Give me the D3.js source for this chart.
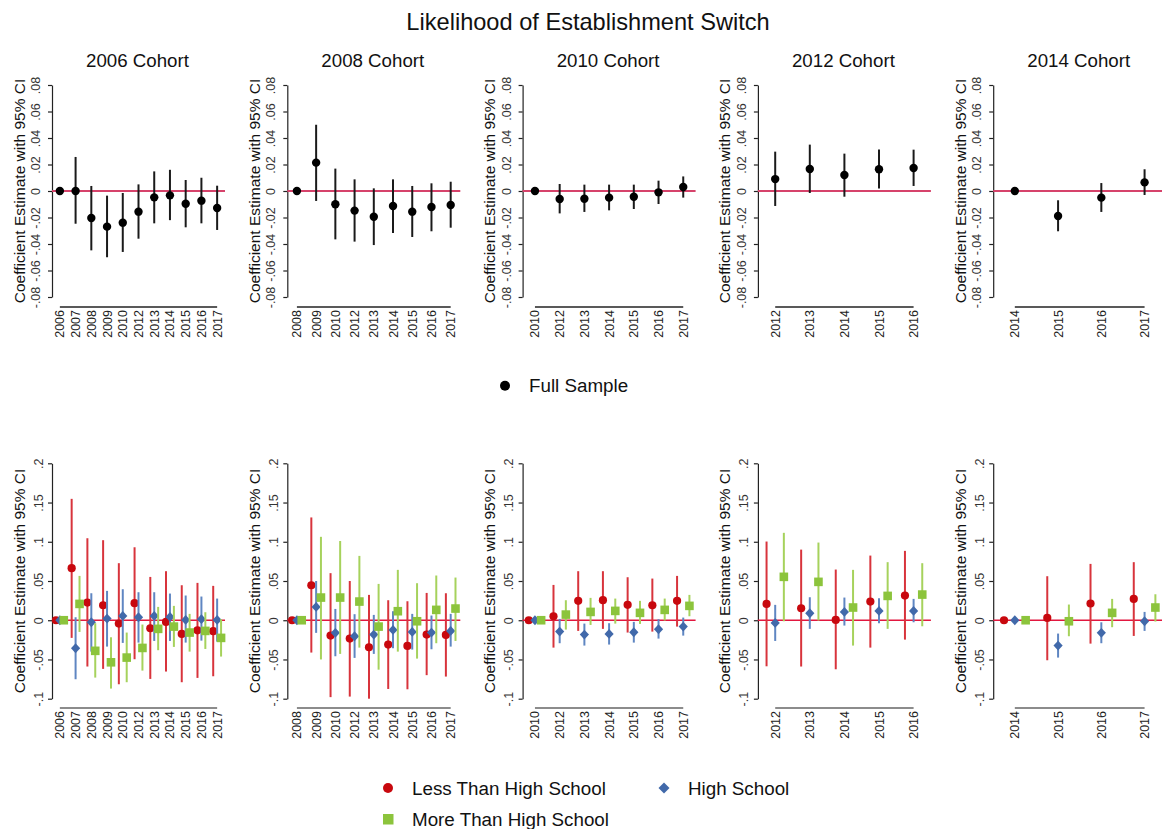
<!DOCTYPE html>
<html><head><meta charset="utf-8">
<script src="https://cdn.jsdelivr.net/npm/d3@7"></script>
<style>body{margin:0;background:#fff;} svg{display:block;font-family:"Liberation Sans",Arial,sans-serif;}</style>
</head><body><svg id="chart" width="1162" height="829"></svg>
<script>
// ---------------- DATA ----------------
const chartTitle = "Likelihood of Establishment Switch";
const cohortTitles = ["2006 Cohort","2008 Cohort","2010 Cohort","2012 Cohort","2014 Cohort"];
const years06 = ["2006","2007","2008","2009","2010","2012","2013","2014","2015","2016","2017"];
const years08 = ["2008","2009","2010","2012","2013","2014","2015","2016","2017"];
const years10 = ["2010","2012","2013","2014","2015","2016","2017"];
const years12 = ["2012","2013","2014","2015","2016"];
const years14 = ["2014","2015","2016","2017"];
const topTicks = [-0.08,-0.06,-0.04,-0.02,0,0.02,0.04,0.06,0.08];
const topTickLabels = ["-.08","-.06","-.04","-.02","0",".02",".04",".06",".08"];
const bottomTicks = [-0.1,-0.05,0,0.05,0.1,0.15,0.2];
const bottomTickLabels = ["-.1","-.05","0",".05",".1",".15",".2"];
const yAxisTitle = "Coefficient Estimate with 95% CI";
const seriesNames = ["Full Sample","Less Than High School","High School","More Than High School"];

// each entry: [estimate, lower 95% CI, upper 95% CI]
const full06 = [[0,0,0],[0.000,-0.0247,0.0257],[-0.0204,-0.0448,0.0038],[-0.0269,-0.050,-0.0035],[-0.0239,-0.046,-0.0015],[-0.0156,-0.036,0.005],[-0.0048,-0.0244,0.0148],[-0.0033,-0.022,0.016],[-0.0096,-0.0274,0.0083],[-0.0073,-0.0244,0.010],[-0.0128,-0.0294,0.004]];
const full08 = [[0,0,0],[0.0214,-0.0075,0.050],[-0.010,-0.0365,0.0169],[-0.0148,-0.0382,0.0088],[-0.0194,-0.0408,0.002],[-0.0113,-0.0317,0.0088],[-0.0156,-0.0347,0.0038],[-0.0121,-0.0304,0.0058],[-0.0106,-0.0277,0.007]];
const full10 = [[0,0,0],[-0.006,-0.0169,0.0053],[-0.0058,-0.0158,0.0048],[-0.005,-0.0146,0.0048],[-0.0043,-0.0136,0.0048],[-0.001,-0.0098,0.0078],[0.003,-0.005,0.011]];
const full12 = [[0.009,-0.0113,0.0297],[0.0166,-0.0015,0.035],[0.0121,-0.0043,0.0282],[0.0164,0.0018,0.0314],[0.0174,0.0038,0.0312]];
const full14 = [[0,0,0],[-0.0189,-0.0304,-0.007],[-0.005,-0.0158,0.006],[0.0065,-0.003,0.0164]];

const lessHS06 = [[0,0,0],[0.0663,-0.0225,0.1547],[0.0225,-0.059,0.1045],[0.0191,-0.062,0.102],[-0.0042,-0.0816,0.0727],[0.0217,-0.0497,0.093],[-0.0102,-0.0748,0.0552],[-0.0021,-0.0654,0.0625],[-0.0174,-0.079,0.0446],[-0.0128,-0.0735,0.0476],[-0.014,-0.0714,0.0438]];
const hs06 = [[0,0,0],[-0.0357,-0.0752,0.0038],[-0.0026,-0.040,0.0344],[0.0021,-0.0336,0.0374],[0.0055,-0.0289,0.0395],[0.0038,-0.0285,0.0357],[0.0055,-0.0264,0.0357],[0.0042,-0.0264,0.034],[0.0004,-0.0285,0.0315],[0.0013,-0.026,0.0302],[0.0004,-0.0272,0.0276]];
const moreHS06 = [[0,0,0],[0.0208,-0.0149,0.0565],[-0.039,-0.0731,-0.0038],[-0.0536,-0.0871,-0.0217],[-0.0476,-0.079,-0.0157],[-0.0353,-0.0642,-0.0055],[-0.011,-0.0382,0.017],[-0.0081,-0.034,0.0183],[-0.0157,-0.040,0.0081],[-0.0136,-0.0366,0.0102],[-0.0225,-0.0463,0.0013]];

const lessHS08 = [[0,0,0],[0.0446,-0.0412,0.131],[-0.0196,-0.098,0.060],[-0.0234,-0.0973,0.050],[-0.0344,-0.100,0.0323],[-0.031,-0.0876,0.0255],[-0.0327,-0.088,0.0242],[-0.0183,-0.070,0.0348],[-0.0187,-0.0718,0.0344]];
const hs08 = [[0,0,0],[0.017,-0.0161,0.050],[-0.0161,-0.0459,0.0144],[-0.0204,-0.048,0.0077],[-0.0183,-0.0429,0.0068],[-0.0123,-0.0357,0.0115],[-0.0149,-0.0374,0.0081],[-0.0157,-0.037,0.006],[-0.0136,-0.0336,0.0081]];
const moreHS08 = [[0,0,0],[0.0289,-0.050,0.1063],[0.0289,-0.0429,0.101],[0.0238,-0.0349,0.082],[-0.0081,-0.063,0.0463],[0.0115,-0.040,0.0642],[-0.0013,-0.0489,0.0472],[0.0132,-0.0293,0.057],[0.0149,-0.0264,0.0544]];

const lessHS10 = [[0,0,0],[0.0051,-0.0349,0.045],[0.0247,-0.0136,0.0625],[0.0255,-0.011,0.0625],[0.0196,-0.0157,0.0548],[0.0191,-0.0145,0.0531],[0.0247,-0.0081,0.0565]];
const hs10 = [[0,0,0],[-0.0145,-0.0293,0.0017],[-0.0183,-0.0323,-0.0043],[-0.0174,-0.031,-0.0038],[-0.0153,-0.0285,-0.0021],[-0.0115,-0.0234,0.0013],[-0.0081,-0.0196,0.0034]];
const moreHS10 = [[0,0,0],[0.0072,-0.0119,0.0255],[0.0106,-0.006,0.0285],[0.0119,-0.0043,0.0276],[0.0094,-0.0047,0.0247],[0.0132,-0.0004,0.0276],[0.0183,0.0051,0.0323]];

const lessHS12 = [[0.0208,-0.0587,0.1003],[0.0153,-0.059,0.090],[0.0004,-0.0625,0.0646],[0.0238,-0.0349,0.0824],[0.0314,-0.0247,0.0884]];
const hs12 = [[-0.0034,-0.0264,0.0196],[0.0089,-0.011,0.0293],[0.0106,-0.0068,0.0289],[0.0119,-0.0038,0.028],[0.0119,-0.0026,0.0272]];
const moreHS12 = [[0.0553,-0.0013,0.1114],[0.0489,-0.0004,0.099],[0.0162,-0.0323,0.0642],[0.031,-0.011,0.074],[0.0327,-0.0077,0.0727]];

const lessHS14 = [[0,0,0],[0.003,-0.051,0.0561],[0.0213,-0.0298,0.0718],[0.0272,-0.020,0.074]];
const hs14 = [[0,0,0],[-0.0323,-0.0476,-0.017],[-0.0161,-0.0293,-0.0026],[-0.0013,-0.0136,0.0106]];
const moreHS14 = [[0,0,0],[-0.0013,-0.0204,0.020],[0.0094,-0.0089,0.0272],[0.0162,-0.0017,0.0331]];

// ---------------- DRAW ----------------
const yearsList = [years06, years08, years10, years12, years14];
const fullList = [full06, full08, full10, full12, full14];
const lessList = [lessHS06, lessHS08, lessHS10, lessHS12, lessHS14];
const hsList = [hs06, hs08, hs10, hs12, hs14];
const moreList = [moreHS06, moreHS08, moreHS10, moreHS12, moreHS14];

const svg = d3.select("#chart");
const FONT = '"Liberation Sans",Arial,sans-serif';

svg.append("text").attr("x", 588).attr("y", 30).attr("text-anchor", "middle")
  .attr("font-size", 23.6).attr("fill", "#111").text(chartTitle);

const colors = {
  full: {m: "#000000", l: "#1a1a1a"},
  less: {m: "#c8080e", l: "#d8343c"},
  hs:   {m: "#4169aa", l: "#5f86c2"},
  more: {m: "#8cc43c", l: "#a6d25c"}
};

const plotW = 173;

function yAxis(g, y, ticks, labels, labelGap, color) {
  const ax = d3.axisLeft(y).tickValues(ticks).tickSize(4).tickSizeOuter(0)
    .tickFormat((d, i) => labels[i]);
  g.call(ax);
  g.select(".domain").attr("stroke", color).attr("stroke-width", 1.2);
  g.selectAll(".tick line").attr("stroke", color).attr("stroke-width", 1.2);
  g.selectAll(".tick text")
    .attr("x", 0).attr("y", -labelGap).attr("dy", null)
    .attr("transform", "rotate(-90)")
    .attr("text-anchor", "middle").attr("dominant-baseline", "central")
    .attr("font-size", 12.5).attr("font-family", FONT).attr("fill", "#333");
}

function xAxis(g, x, years, color) {
  const ax = d3.axisBottom(x).tickSize(0).tickSizeOuter(0);
  g.call(ax);
  g.select(".domain").remove();
  g.selectAll(".tick text")
    .attr("x", -3).attr("y", 0).attr("dy", null)
    .attr("transform", "rotate(-90)")
    .attr("text-anchor", "end").attr("dominant-baseline", "central")
    .attr("font-size", 12.5).attr("font-family", FONT).attr("fill", "#222");
  g.append("line").attr("x1", x(years[0])).attr("x2", x(years[years.length - 1]))
    .attr("y1", 0).attr("y2", 0).attr("stroke", color).attr("stroke-width", 1.3);
}

function drawPanel(i, row) {
  const years = yearsList[i];
  const axisX = 52 + i * 235.3;
  const x = d3.scalePoint().domain(years).range([axisX, axisX + plotW]).padding(0.5);
  const top = row === 0;
  const y = top
    ? d3.scaleLinear().domain([-0.08, 0.08]).range([297, 85])
    : d3.scaleLinear().domain([-0.1, 0.2]).range([698.7, 463.3]);
  const xAxisY = top ? 307 : 708;
  const g = svg.append("g");

  if (top) {
    g.append("text").attr("x", axisX + plotW / 2 - 1).attr("y", 67).attr("text-anchor", "middle")
      .attr("font-size", 18.7).attr("fill", "#111").text(cohortTitles[i]);
  }

  // axis title
  const ymid = (y.range()[0] + y.range()[1]) / 2;
  g.append("text").attr("transform", `translate(${axisX - 33},${ymid}) rotate(-90)`)
    .attr("text-anchor", "middle").attr("dominant-baseline", "central")
    .attr("font-size", 15.5).attr("fill", "#111").text(yAxisTitle);

  yAxis(g.append("g").attr("transform", `translate(${axisX},0)`), y,
    top ? topTicks : bottomTicks, top ? topTickLabels : bottomTickLabels,
    top ? 16 : 13.5, "#222");
  xAxis(g.append("g").attr("transform", `translate(0,${xAxisY})`), x, years, top ? "#222" : "#666");

  // zero line
  g.append("line").attr("x1", axisX).attr("x2", axisX + plotW)
    .attr("y1", y(0)).attr("y2", y(0))
    .attr("stroke", top ? "#d6436b" : "#e2173f").attr("stroke-width", top ? 2 : 1.6);

  const step = x.step();
  const series = top
    ? [{data: fullList[i], c: colors.full, off: 0, shape: "circle"}]
    : [{data: lessList[i], c: colors.less, off: -0.25, shape: "circle"},
       {data: hsList[i], c: colors.hs, off: 0, shape: "diamond"},
       {data: moreList[i], c: colors.more, off: 0.25, shape: "square"}];

  series.forEach(s => {
    const sg = g.append("g");
    const px = (d, j) => x(years[j]) + s.off * step;
    sg.selectAll("line.ci").data(s.data).enter().append("line")
      .attr("x1", px).attr("x2", px)
      .attr("y1", d => y(d[1])).attr("y2", d => y(d[2]))
      .attr("stroke", s.c.l).attr("stroke-width", 2);
    drawMarkers(sg, s.data, px, y, s.shape, s.c.m, top ? 4.2 : 4.1);
  });
}

function drawMarkers(sg, data, px, y, shape, color, r) {
  if (shape === "circle") {
    sg.selectAll("circle").data(data).enter().append("circle")
      .attr("cx", px).attr("cy", d => y(d[0])).attr("r", r).attr("fill", color);
  } else if (shape === "diamond") {
    sg.selectAll("path.dm").data(data).enter().append("path")
      .attr("d", (d, j) => {
        const cx = px(d, j), cy = y(d[0]), a = 4.6, b = 4.9;
        return `M${cx},${cy - b}L${cx + a},${cy}L${cx},${cy + b}L${cx - a},${cy}Z`;
      }).attr("fill", color);
  } else {
    const s = 8.6;
    sg.selectAll("rect").data(data).enter().append("rect")
      .attr("x", (d, j) => px(d, j) - s / 2).attr("y", d => y(d[0]) - s / 2)
      .attr("width", s).attr("height", s).attr("fill", color);
  }
}

for (let i = 0; i < 5; i++) { drawPanel(i, 0); drawPanel(i, 1); }

// legends
const lg1 = svg.append("g");
lg1.append("circle").attr("cx", 505).attr("cy", 385.7).attr("r", 5).attr("fill", colors.full.m);
lg1.append("text").attr("x", 529).attr("y", 392).attr("font-size", 18.8).attr("fill", "#111").text(seriesNames[0]);

const lg2 = svg.append("g");
lg2.append("circle").attr("cx", 388).attr("cy", 788).attr("r", 5).attr("fill", colors.less.m);
lg2.append("text").attr("x", 412).attr("y", 795).attr("font-size", 18.8).attr("fill", "#111").text(seriesNames[1]);
lg2.append("path").attr("d", "M664,782.5L669.5,788L664,793.5L658.5,788Z").attr("fill", colors.hs.m);
lg2.append("text").attr("x", 688).attr("y", 795).attr("font-size", 18.8).attr("fill", "#111").text(seriesNames[2]);
lg2.append("rect").attr("x", 383).attr("y", 814).attr("width", 10.5).attr("height", 10.5).attr("fill", colors.more.m);
lg2.append("text").attr("x", 412).attr("y", 826).attr("font-size", 18.8).attr("fill", "#111").text(seriesNames[3]);
</script>
</body></html>
